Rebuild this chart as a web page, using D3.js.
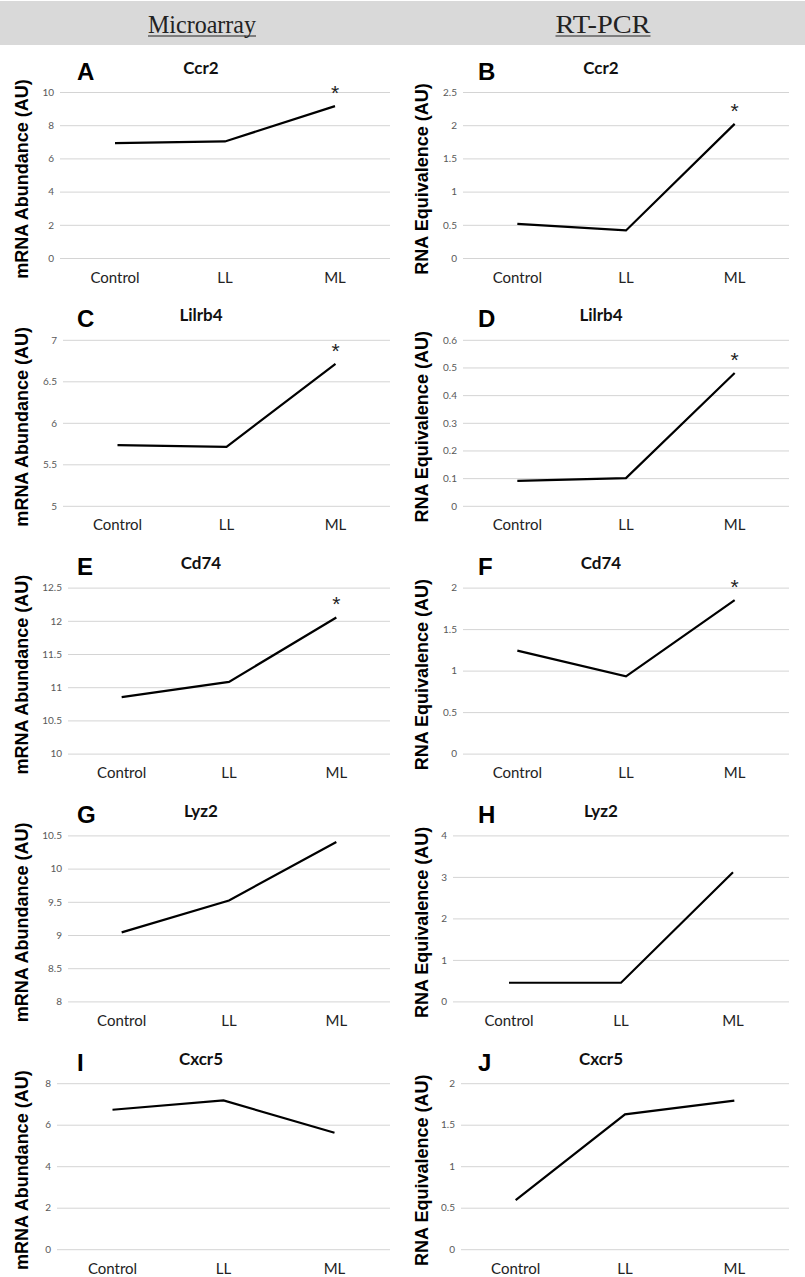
<!DOCTYPE html>
<html>
<head>
<meta charset="utf-8">
<script src="https://cdn.jsdelivr.net/npm/d3@7"></script>
<style>
  body { margin: 0; background: #fff; }
  svg { display: block; }
</style>
</head>
<body>
<div id="chart"></div>
<script>
// figure size
const WIDTH = 805, HEIGHT = 1277;

// data
const categories = ["Control", "LL", "ML"];
const columnHeads = ["Microarray", "RT-PCR"];
const panelLetters = ["A", "B", "C", "D", "E", "F", "G", "H", "I", "J"];
const genes = ["Ccr2", "Ccr2", "Lilrb4", "Lilrb4", "Cd74", "Cd74", "Lyz2", "Lyz2", "Cxcr5", "Cxcr5"];
const yTitles = ["mRNA Abundance (AU)", "RNA Equivalence (AU)"];

const ccr2Micro = [6.92, 7.02, 9.15];
const ccr2Pcr = [0.515, 0.415, 2.02];
const lilrb4Micro = [5.73, 5.71, 6.71];
const lilrb4Pcr = [0.09, 0.10, 0.48];
const cd74Micro = [10.85, 11.08, 12.05];
const cd74Pcr = [1.24, 0.93, 1.85];
const lyz2Micro = [9.04, 9.52, 10.4];
const lyz2Pcr = [0.45, 0.45, 3.11];
const cxcr5Micro = [6.72, 7.17, 5.61];
const cxcr5Pcr = [0.59, 1.625, 1.79];

const yDomains = [[0, 10], [0, 2.5], [5, 7], [0, 0.6], [10, 12.5], [0, 2], [8, 10.5], [0, 4], [0, 8], [0, 2]];
const tickSteps = [2, 0.5, 0.5, 0.1, 0.5, 0.5, 0.5, 1, 2, 0.5];
const significant = [true, true, true, true, true, true, false, false, false, false];

const allValues = [ccr2Micro, ccr2Pcr, lilrb4Micro, lilrb4Pcr, cd74Micro, cd74Pcr,
                   lyz2Micro, lyz2Pcr, cxcr5Micro, cxcr5Pcr];

// layout: plot left edge per panel (depends on tick label width)
const plotLefts = [60, 463, 63, 463, 68, 463, 68, 453, 57, 461];
const plotRights = [390, 789];
const plotH = 166;
const rowTop = r => 92 + 247.8 * r;

let svg = d3.select("#chart")
    .append("svg")
    .attr("width", WIDTH)
    .attr("height", HEIGHT);

// header band
svg.append("rect")
    .attr("x", 0).attr("y", 1)
    .attr("width", WIDTH).attr("height", 44)
    .attr("fill", "#d9d9d9");

let headX = [202, 603];
let headW = [108, 95];
columnHeads.forEach(function (t, i) {
    svg.append("text")
        .attr("x", headX[i]).attr("y", 33)
        .attr("text-anchor", "middle")
        .attr("textLength", headW[i])
        .attr("lengthAdjust", "spacingAndGlyphs")
        .style("font", "26px 'Liberation Serif'")
        .style("fill", "#222")
        .text(t);
    svg.append("line")
        .attr("x1", headX[i] - headW[i] / 2).attr("x2", headX[i] + headW[i] / 2)
        .attr("y1", 36).attr("y2", 36)
        .attr("stroke", "#222").attr("stroke-width", 1.2);
});

for (let p = 0; p < 10; p++) {
    let col = p % 2, row = Math.floor(p / 2);
    let colX = col * 400;
    let top = rowTop(row);
    let left = plotLefts[p], right = plotRights[col];
    let g = svg.append("g");

    let x = d3.scaleBand()
        .domain(categories)
        .range([left, right]);

    let y = d3.scaleLinear()
        .domain(yDomains[p])
        .range([top + plotH, top]);

    let ticks = d3.range(yDomains[p][0], yDomains[p][1] + tickSteps[p] / 2, tickSteps[p])
        .map(v => +v.toFixed(3));

    // gridlines + tick labels
    let yAxis = g.append("g")
        .attr("transform", `translate(${left},0)`)
        .call(d3.axisLeft(y).tickValues(ticks).tickSize(-(right - left)).tickPadding(6)
            .tickFormat(d3.format("")));
    yAxis.select(".domain").remove();
    yAxis.selectAll(".tick line").attr("stroke", "#d4d4d4").attr("stroke-width", 1);
    yAxis.selectAll(".tick text")
        .style("font", "10px Lato")
        .style("fill", "#595959");

    // category labels
    g.selectAll(".cat")
        .data(categories)
        .enter()
        .append("text")
        .attr("x", d => x(d) + x.bandwidth() / 2)
        .attr("y", top + 190.5)
        .attr("text-anchor", "middle")
        .style("font", "15px Lato")
        .style("fill", "#222")
        .text(d => d);

    // the line
    let vals = allValues[p].map((v, i) => ({ cat: categories[i], v: v }));
    g.append("path")
        .datum(vals)
        .attr("fill", "none")
        .attr("stroke", "#000")
        .attr("stroke-width", 2.2)
        .attr("d", d3.line()
            .x(d => x(d.cat) + x.bandwidth() / 2)
            .y(d => y(d.v)));

    // significance star on ML
    if (significant[p]) {
        g.append("text")
            .attr("x", x("ML") + x.bandwidth() / 2)
            .attr("y", y(vals[2].v) - 6)
            .attr("text-anchor", "middle")
            .style("font", "21px 'Liberation Sans'")
            .style("fill", "#222")
            .text("*");
    }

    // gene title
    g.append("text")
        .attr("x", colX + 201)
        .attr("y", top - 18.5)
        .attr("text-anchor", "middle")
        .style("font", "bold 17px Lato")
        .style("fill", "#111")
        .text(genes[p]);

    // panel letter
    g.append("text")
        .attr("x", colX + (col ? 78 : 77))
        .attr("y", top - 12.5)
        .style("font", "bold 24px 'Liberation Sans'")
        .style("fill", "#000")
        .text(panelLetters[p]);

    // y-axis title
    g.append("text")
        .attr("transform", `translate(${colX + 22}, ${top + 87}) rotate(-90)`)
        .attr("text-anchor", "middle")
        .attr("dy", "0.35em")
        .style("font", "bold 18px 'Liberation Sans'")
        .style("fill", "#000")
        .text(yTitles[col]);
}
</script>
</body>
</html>
